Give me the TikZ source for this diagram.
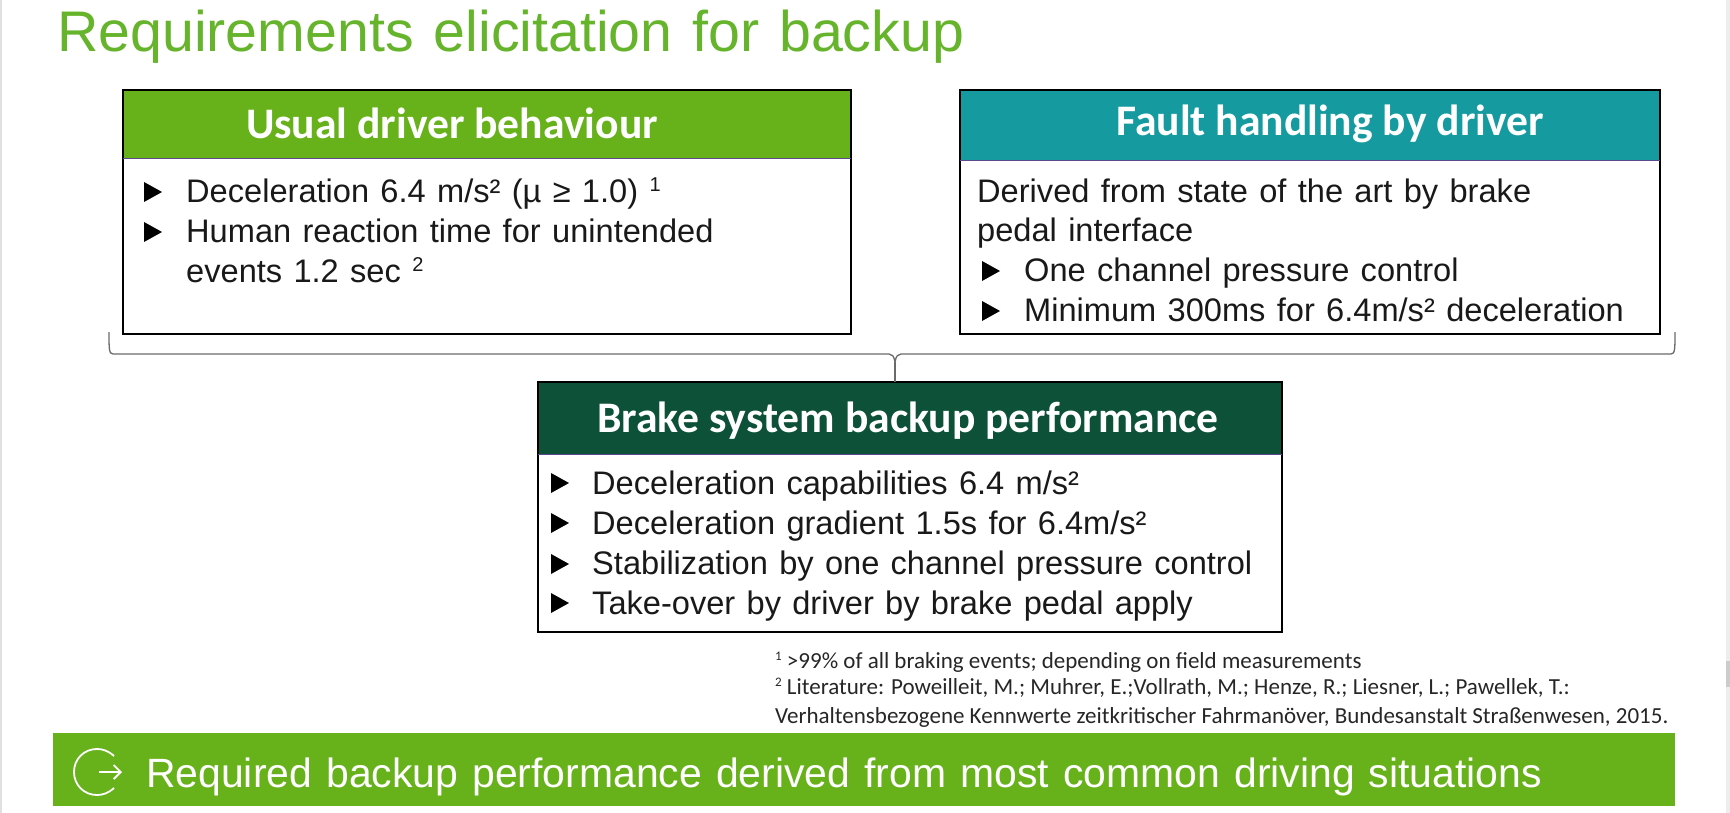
\documentclass[tikz,border=0pt]{standalone}
\usetikzlibrary{arrows.meta}
\usepackage{fontspec}
\setmainfont{Liberation Sans}[WordSpace=1.25]
\newfontfamily\headfont{Carlito}[BoldFont={Carlito Bold}]
\newfontfamily\notefont{Carlito}
\definecolor{bgreen}{HTML}{67B21A}
\definecolor{bteal}{HTML}{159AA0}
\definecolor{bdark}{HTML}{0C5138}
\definecolor{titlegreen}{HTML}{66B42C}
\definecolor{hairline}{HTML}{5A4A8C}
\definecolor{bracegray}{HTML}{6A6A6A}
\tikzset{
  x=1pt,y=-1pt,
  panel/.style={draw=black,line width=2pt,fill=white,anchor=north west,inner sep=0pt,outer sep=0pt},
  headbar/.style={anchor=north west,inner sep=0pt,outer sep=0pt,draw=none},
  headtext/.style={anchor=base,inner sep=0pt,text=white,font=\headfont\bfseries\fontsize{43.6}{44}\selectfont},
  bodytext/.style={anchor=base west,inner sep=0pt,text=black!90,font=\fontsize{32.6}{33}\selectfont},
  notetext/.style={anchor=base west,inner sep=0pt,text=black!85,font=\notefont\fontsize{23}{23}\selectfont},
  bracket/.style={draw=bracegray,line width=1.3pt},
}
\newcommand{\bul}[2]{\fill[black] (#1,#2-20) -- (#1+18,#2-10) -- (#1,#2) -- cycle;}
\newcommand{\sx}[1]{\raisebox{0.36em}{\fontsize{20}{20}\selectfont #1}}
\newcommand{\nx}[1]{\raisebox{0.34em}{\fontsize{13}{13}\selectfont #1}}
\begin{document}
\begin{tikzpicture}
\useasboundingbox (0,0) rectangle (1730,813);
\fill[white] (0,0) rectangle (1730,813);
\fill[black!12] (0,0) rectangle (1.5,813);
\fill[black!7] (1726,0) rectangle (1730,813);
\fill[black!20] (1726,661) rectangle (1730,687);
\node[anchor=base west,inner sep=0pt,text=titlegreen,font=\fontsize{57.3}{58}\selectfont] (title) at (57,51.5) {Requirements elicitation for backup};

% box 1
\node[panel,minimum width=728pt,minimum height=244pt] (box1) at (123,90) {};
\node[headbar,fill=bgreen,minimum width=728pt,minimum height=69pt] (head1) at (123,90) {};
\draw[black,line width=2pt] (box1.north west) rectangle (box1.south east);
\draw[hairline,line width=1pt] (head1.south west) -- (head1.south east);
\node[headtext] (h1t) at (452,139) {Usual driver behaviour};
\bul{144}{202}
\node[bodytext] (a1) at (186,203) {Deceleration 6.4 m/s² (µ ≥ 1.0) \sx{1}};
\bul{144}{242}
\node[bodytext] (a2) at (186,243) {Human reaction time for unintended};
\node[bodytext] (a3) at (186,283) {events 1.2 sec \sx{2}};

% box 2
\node[panel,minimum width=700pt,minimum height=244pt] (box2) at (960,90) {};
\node[headbar,fill=bteal,minimum width=700pt,minimum height=71pt] (head2) at (960,90) {};
\draw[black,line width=2pt] (box2.north west) rectangle (box2.south east);
\draw[hairline,line width=1pt] (head2.south west) -- (head2.south east);
\node[headtext] (h2t) at (1330,136) {Fault handling by driver};
\node[bodytext] (b1) at (977,202.5) {Derived from state of the art by brake};
\node[bodytext] (b2) at (977,242) {pedal interface};
\bul{982}{281}
\node[bodytext] (b3) at (1024,281) {One channel pressure control};
\bul{982}{321}
\node[bodytext] (b4) at (1024,321) {Minimum 300ms for 6.4m/s² deceleration};

% box 3
\node[panel,minimum width=744pt,minimum height=250pt] (box3) at (538,382) {};
\node[headbar,fill=bdark,minimum width=744pt,minimum height=72pt] (head3) at (538,382) {};
\draw[black,line width=2pt] (box3.north west) rectangle (box3.south east);
\draw[hairline,line width=1pt] (head3.south west) -- (head3.south east);
\node[headtext] (h3t) at (908,432) {Brake system backup performance};
\bul{551}{493}
\node[bodytext] (c1) at (592,494) {Deceleration capabilities 6.4 m/s²};
\bul{551}{533}
\node[bodytext] (c2) at (592,534) {Deceleration gradient 1.5s for 6.4m/s²};
\bul{551}{574}
\node[bodytext] (c3) at (592,574.5) {Stabilization by one channel pressure control};
\bul{551}{613}
\node[bodytext] (c4) at (592,614) {Take-over by driver by brake pedal apply};

% brace
\coordinate (bl) at (109,332);
\coordinate (br) at (1675,332);
\draw[bracket] (bl) .. controls (109,349) and (109,354) .. (113,354) -- (889,354)
   .. controls (892,354) and (894,356) .. (895,362)
   .. controls (896,356) and (898,354) .. (901,354) -- (1671,354)
   .. controls (1675,354) and (1675,349) .. (br);
\coordinate (tip) at (895,362);
\coordinate (tipend) at (895,382);
\draw[bracket] (tip) -- (tipend);

% footnotes
\node[notetext] (n1) at (775,668) {\nx{1} >99\% of all braking events; depending on field measurements};
\node[notetext] (n2) at (775,694.5) {\nx{2} Literature: Poweilleit, M.; Muhrer, E.;Vollrath, M.; Henze, R.; Liesner, L.; Pawellek, T.:};
\node[notetext] (n3) at (775,723) {Verhaltensbezogene Kennwerte zeitkritischer Fahrmanöver, Bundesanstalt Straßenwesen, 2015.};

% bottom bar
\node[headbar,fill=bgreen,minimum width=1622pt,minimum height=73pt] (bar) at (53,733) {};
\draw[white,line width=1.8pt] (114,756) .. controls (108,750.5) and (102,749) .. (97,749)
  .. controls (84,749) and (74,759) .. (74,772)
  .. controls (74,785) and (84,795) .. (97,795)
  .. controls (102,795) and (108,793.5) .. (114,788);
\coordinate (arrA) at (99,772);
\coordinate (arrB) at (122,772);
\draw[white,line width=1.8pt,-{Straight Barb[length=7pt,width=14pt]}] (arrA) -- (arrB);
\node[anchor=base west,inner sep=0pt,text=white,font=\fontsize{40.9}{41}\selectfont] (bart) at (146,787) {Required backup performance derived from most common driving situations};
\end{tikzpicture}
\end{document}
